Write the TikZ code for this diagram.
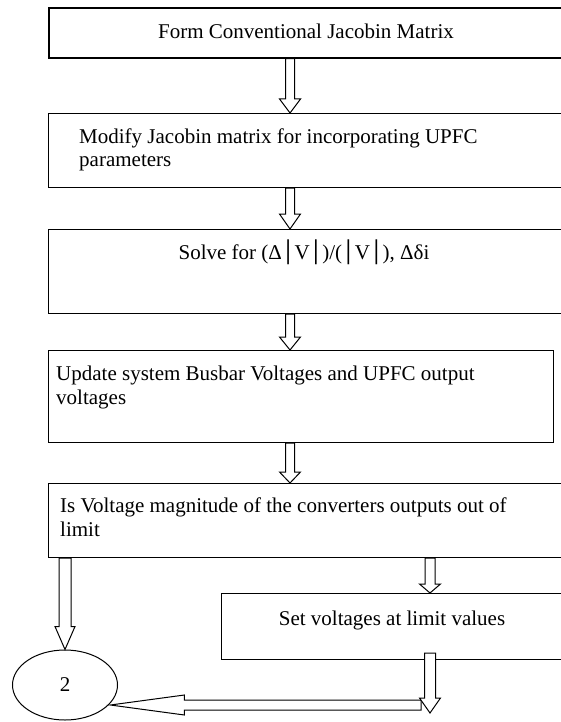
\documentclass[tikz,border=0pt]{standalone}
\usepackage{fontspec}
\setmainfont{Liberation Serif}
\newfontfamily\barfont{DejaVu Sans}
\usetikzlibrary{shapes.geometric,calc}

\tikzset{
  stepbox/.style={draw, line width=1.2pt, inner sep=0pt, anchor=north west},
  lbl/.style={inner sep=0pt, font=\fontsize{21}{24}\selectfont},
  blockarrow/.style={draw, fill=white, line width=1pt, line join=miter},
}

% hollow block arrow pointing down: start, tip, shaft half width, head half width, head length
\newcommand\downblock[5]{%
  \path[blockarrow] let \p1=#1, \p2=#2 in
    (\x1-#3,\y1) -- (\x1+#3,\y1) -- (\x1+#3,\y2+#5) -- (\x1+#4,\y2+#5) --
    (\x1,\y2) -- (\x1-#4,\y2+#5) -- (\x1-#3,\y2+#5) -- cycle;}

% hollow block arrow pointing left: tail, tip, shaft half width, head half width, head length
\newcommand\leftblock[5]{%
  \path[blockarrow] let \p1=#1, \p2=#2 in
    (\x1,\y1-#3) -- (\x1,\y1+#3) -- (\x2+#5,\y1+#3) -- (\x2+#5,\y1+#4) --
    (\x2,\y1) -- (\x2+#5,\y1-#4) -- (\x2+#5,\y1-#3) -- cycle;}

\begin{document}
\begin{tikzpicture}[x=1pt,y=-1pt]
\useasboundingbox (0,0) rectangle (561,722);
\clip (0,0) rectangle (561,722);

% process boxes
\node[stepbox, line width=1.6pt, minimum width=540pt, minimum height=50pt] (b1) at (48,7) {};
\node[stepbox, minimum width=540pt, minimum height=74pt] (b2) at (48,113) {};
\node[stepbox, minimum width=540pt, minimum height=84pt] (b3) at (48,229) {};
\node[stepbox, minimum width=505pt, minimum height=92pt] (b4) at (48,350) {};
\node[stepbox, minimum width=540pt, minimum height=74pt] (b5) at (48,483) {};
\node[stepbox, minimum width=360pt, minimum height=66pt] (b6) at (221,593) {};

% connector terminal
\node[ellipse, draw, line width=1pt, minimum width=105pt, minimum height=70pt,
      inner sep=0pt, font=\fontsize{21}{24}\selectfont] (e2) at (65,685) {2};

% arrow columns and free ends
\coordinate (cx) at (290,0);
\coordinate (cr) at (430,0);
\coordinate (cl) at (65,0);
\coordinate (rtip) at (430,713);
\coordinate (htail) at (421,705);

% main chain
\downblock{(b1.south -| cx)}{(b2.north -| cx)}{4.5pt}{10.5pt}{14pt}
\downblock{(b2.south -| cx)}{(b3.north -| cx)}{4.5pt}{10.5pt}{15pt}
\downblock{(b3.south -| cx)}{(b4.north -| cx)}{4.5pt}{10.5pt}{13pt}
\downblock{(b4.south -| cx)}{(b5.north -| cx)}{4.5pt}{10.5pt}{11pt}

% branches
\downblock{(b5.south -| cr)}{(b6.north -| cr)}{5pt}{10.5pt}{9pt}
\downblock{(b5.south -| cl)}{(e2.north)}{6pt}{10pt}{23pt}
\leftblock{(htail)}{(e2.-22)}{5pt}{10pt}{74pt}
\downblock{($(b6.south -| cr)+(0,-7)$)}{(rtip)}{5.5pt}{10.5pt}{15pt}

% texts
\node[lbl, anchor=base] (t1) at (306,39) {Form Conventional Jacobin Matrix};
\node[lbl, anchor=base west] (t2a) at (79,144) {Modify Jacobin matrix for incorporating UPFC};
\node[lbl, anchor=base west] (t2b) at (79,167) {parameters};
\node[lbl, anchor=base] (t3) at (304,259) {Solve for (Δ{\barfont│}V{\barfont│})/({\barfont│}V{\barfont│}), Δδi};
\node[lbl, anchor=base west] (t4a) at (56,380) {Update system Busbar Voltages and UPFC output};
\node[lbl, anchor=base west] (t4b) at (56,404) {voltages};
\node[lbl, anchor=base west] (t5a) at (60,512) {Is Voltage magnitude of the converters outputs out of};
\node[lbl, anchor=base west] (t5b) at (60,536) {limit};
\node[lbl, anchor=base] (t6) at (392,625) {Set voltages at limit values};
\end{tikzpicture}
\end{document}
